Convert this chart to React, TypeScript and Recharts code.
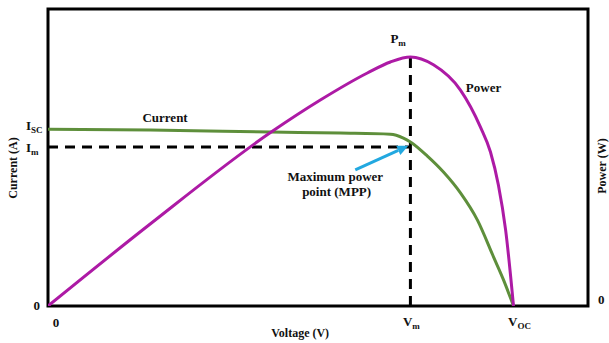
import React from 'react';
import {
  ComposedChart,
  Line,
  XAxis,
  YAxis,
  ReferenceLine,
  ReferenceArea,
  ReferenceDot,
  Label,
} from 'recharts';

// key points of the I-V / P-V curve (arbitrary units)
const VM = 15.57;
const VOC = 20;
const ISC = 5;
const IM = 4.5;
const PM = 70;
const XMAX = 23.2;
const IMAX = 8.4;
const PMAX = 83.5;

// current curve
const currentV = [0, 4.39, 9.59, 12.56, 14.71, 15.27, 15.57, 16.3, 16.99, 17.72, 18.45, 19.14, 19.57, 20];
const currentA = [5.0, 4.98, 4.92, 4.89, 4.86, 4.75, 4.64, 4.24, 3.79, 3.2, 2.43, 1.39, 0.74, 0];

// power curve
const powerV = [0, 4.39, 9.59, 11.7, 13.72, 14.71, 15.57, 16.56, 17.72, 18.58, 19.01, 19.35, 19.66, 20];
const powerW = [0, 23.05, 48.9, 57.9, 65.5, 68.6, 70.0, 67.8, 60.7, 50.3, 43.3, 34.0, 21.4, 0];

// tick labels: [main, subscript]
const xTicks = [0, VM, VOC];
const xTickLabels = [['0', ''], ['V', 'm'], ['V', 'OC']];
const iTicks = [0, IM, ISC];
const iTickLabels = [['0', ''], ['I', 'm'], ['I', 'SC']];

const currentData = currentV.map((v, i) => ({ v, i: currentA[i] }));
const powerData = powerV.map((v, i) => ({ v, p: powerW[i] }));

const FONT = '"Liberation Serif", "Times New Roman", serif';
const GREEN = '#5e8f3b';
const MAGENTA = '#ad1aa5';
const CYAN = '#22a8e0';

const txt = { style: { fontFamily: FONT, fontWeight: 700, fontSize: 13 }, fill: '#111' };
const small = { style: { fontFamily: FONT, fontWeight: 700, fontSize: 12 }, fill: '#111' };

const XTick = (props: any) => {
  const { x, y, index } = props;
  const [main, sub] = xTickLabels[index];
  if (!sub) {
    return (
      <text x={x + 8} y={y + 13} textAnchor="middle" {...txt}>
        {main}
      </text>
    );
  }
  return (
    <text x={x + (index === 2 ? 6 : 1)} y={y + 12} textAnchor="middle" {...txt}>
      <tspan>{main}</tspan>
      <tspan dy={3} fontSize={9}>{sub}</tspan>
    </text>
  );
};

const ITick = (props: any) => {
  const { x, y, index } = props;
  const [main, sub] = iTickLabels[index];
  if (!sub) {
    return (
      <text x={x} y={y + 4} textAnchor="end" {...txt}>
        {main}
      </text>
    );
  }
  return (
    <text x={x - 14} y={y + (index === 2 ? 1 : 5)} textAnchor="start" {...txt}>
      <tspan>{main}</tspan>
      <tspan dy={3} fontSize={9}>{sub}</tspan>
    </text>
  );
};

const PTick = (props: any) => {
  const { x, y } = props;
  return (
    <text x={x + 2} y={y - 2} textAnchor="start" {...txt}>
      0
    </text>
  );
};

const arrowShape = (props: any) => {
  const { x1, y1, x2, y2 } = props;
  const a = Math.atan2(y2 - y1, x2 - x1);
  const len = 11;
  const half = 5;
  const bx = x2 - Math.cos(a) * len;
  const by = y2 - Math.sin(a) * len;
  const px = -Math.sin(a) * half;
  const py = Math.cos(a) * half;
  return (
    <g>
      <line x1={x1} y1={y1} x2={bx} y2={by} stroke={CYAN} strokeWidth={3} />
      <polygon points={`${x2},${y2} ${bx + px},${by + py} ${bx - px},${by - py}`} fill={CYAN} />
    </g>
  );
};

const textDot = (content: React.ReactNode, anchor: string = 'middle', dx = 0) => (props: any) => (
  <text x={props.cx + dx} y={props.cy} textAnchor={anchor} {...txt}>
    {content}
  </text>
);

export default function App() {
  return (
    <div style={{ position: 'absolute', left: 0, top: 0, background: '#fff' }}>
      <ComposedChart width={609} height={343} margin={{ top: 9, right: 0, bottom: 0, left: 0 }}>
        <XAxis
          dataKey="v"
          type="number"
          domain={[0, XMAX]}
          ticks={xTicks}
          interval={0}
          height={37}
          axisLine={false}
          tickLine={false}
          tick={(p: any) => <XTick {...p} />}
          allowDataOverflow
        >
          <Label
            content={(p: any) => (
              <text x={p.viewBox.x + p.viewBox.width * 0.467} y={p.viewBox.y + 31} textAnchor="middle" {...small}>
                Voltage (V)
              </text>
            )}
          />
        </XAxis>
        <YAxis
          yAxisId="i"
          type="number"
          width={48}
          domain={[0, IMAX]}
          ticks={iTicks}
          interval={0}
          axisLine={false}
          tickLine={false}
          tick={(p: any) => <ITick {...p} />}
          allowDataOverflow
        >
          <Label
            content={(p: any) => {
              const cx = p.viewBox.x + 13;
              const cy = p.viewBox.y + 159;
              return (
                <text x={cx} y={cy + 4} transform={`rotate(-90, ${cx}, ${cy})`} textAnchor="middle" {...small}>
                  Current (A)
                </text>
              );
            }}
          />
        </YAxis>
        <YAxis
          yAxisId="p"
          orientation="right"
          type="number"
          width={21}
          domain={[0, PMAX]}
          ticks={[0]}
          axisLine={false}
          tickLine={false}
          tick={(p: any) => <PTick {...p} />}
          allowDataOverflow
        >
          <Label
            content={(p: any) => {
              const cx = p.viewBox.x + 14;
              const cy = p.viewBox.y + 157;
              return (
                <text x={cx} y={cy + 4} transform={`rotate(-90, ${cx}, ${cy})`} textAnchor="middle" {...small}>
                  Power (W)
                </text>
              );
            }}
          />
        </YAxis>

        <ReferenceArea yAxisId="i" x1={0} x2={XMAX} y1={0} y2={IMAX} fill="none" stroke="#000" strokeWidth={3} />

        <ReferenceLine
          yAxisId="i"
          segment={[{ x: 0, y: IM }, { x: VM, y: IM }]}
          stroke="#000"
          strokeWidth={3}
          strokeDasharray="10 7"
        />
        <ReferenceLine
          yAxisId="p"
          segment={[{ x: VM, y: 0 }, { x: VM, y: PM }]}
          stroke="#000"
          strokeWidth={3}
          strokeDasharray="10 7"
        />

        <Line
          yAxisId="i"
          data={currentData}
          dataKey="i"
          type="monotone"
          stroke={GREEN}
          strokeWidth={3}
          dot={false}
          isAnimationActive={false}
        />
        <Line
          yAxisId="p"
          data={powerData}
          dataKey="p"
          type="monotone"
          stroke={MAGENTA}
          strokeWidth={3}
          dot={false}
          isAnimationActive={false}
        />

        <ReferenceLine
          yAxisId="i"
          segment={[{ x: 13.2, y: 3.85 }, { x: 15.48, y: 4.53 }]}
          shape={arrowShape}
        />

        <ReferenceDot yAxisId="i" x={5.03} y={5.2} r={0} shape={textDot('Current')} />
        <ReferenceDot yAxisId="i" x={18.71} y={6.05} r={0} shape={textDot('Power')} />
        <ReferenceDot
          yAxisId="i"
          x={VM}
          y={7.44}
          r={0}
          shape={textDot(
            <>
              <tspan>P</tspan>
              <tspan dy={3} fontSize={9}>m</tspan>
            </>,
            'start',
            -20
          )}
        />
        <ReferenceDot yAxisId="i" x={12.34} y={3.54} r={0} shape={textDot('Maximum power')} />
        <ReferenceDot yAxisId="i" x={12.4} y={3.11} r={0} shape={textDot('point (MPP)')} />
      </ComposedChart>
    </div>
  );
}
